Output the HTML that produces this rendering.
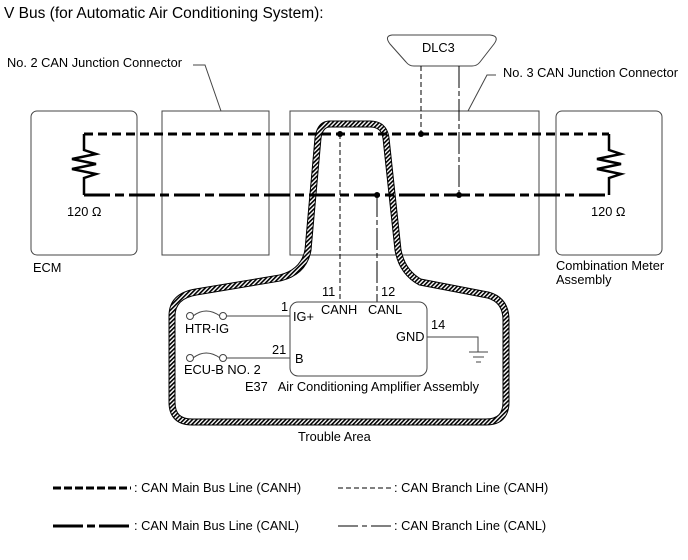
<!DOCTYPE html>
<html><head><meta charset="utf-8"><style>
html,body{margin:0;padding:0;background:#fff}
svg{display:block}
text{font-family:"Liberation Sans",Arial,sans-serif;font-size:12.8px;fill:#000}
</style></head><body>
<svg width="688" height="560" viewBox="0 0 688 560" xmlns="http://www.w3.org/2000/svg">
<defs>
<pattern id="h" width="3" height="3" patternUnits="userSpaceOnUse" patternTransform="rotate(45)">
<rect width="3" height="3" fill="#fff"/><rect width="1.6" height="3" fill="#000"/>
</pattern>
</defs>
<text x="4" y="18" style="font-size:15.5px">V Bus (for Automatic Air Conditioning System):</text>

<g fill="none" stroke="#444" stroke-width="1">
<rect x="31" y="111" width="106" height="144" rx="6"/>
<rect x="162" y="111" width="107" height="144"/>
<rect x="290" y="111" width="249" height="144"/>
<rect x="556" y="111" width="106" height="144" rx="6"/>
<polyline points="193,65 205,65 221,111"/>
<polyline points="496,75 487,75 468,111"/>
<path d="M392,35 L490,35 Q500,36 494,44 L480,62 Q477,66 472,66 L414,66 Q409,66 406,62 L390,44 Q384,36 392,35 Z"/>
</g>
<text x="7" y="67">No. 2 CAN Junction Connector</text>
<text x="503" y="77">No. 3 CAN Junction Connector</text>
<text x="422" y="52">DLC3</text>

<path d="M330,124 L370,124 Q384,124 386,138 L398,250 Q402,272 420,282 L488,295 Q506,300 506,320 L506,402 Q506,422 486,422 L192,422 Q172,422 172,402 L172,316 Q172,296 196,292 L280,278 Q304,272 308,250 L318,138 Q320,124 330,124 Z" fill="none" stroke="#000" stroke-width="7"/>
<path d="M330,124 L370,124 Q384,124 386,138 L398,250 Q402,272 420,282 L488,295 Q506,300 506,320 L506,402 Q506,422 486,422 L192,422 Q172,422 172,402 L172,316 Q172,296 196,292 L280,278 Q304,272 308,250 L318,138 Q320,124 330,124 Z" fill="none" stroke="url(#h)" stroke-width="5"/>

<g stroke="#000" fill="none" stroke-width="3">
<line x1="84" y1="134" x2="609" y2="134" stroke-dasharray="9,5"/>
<line x1="84" y1="195" x2="609" y2="195" stroke-dasharray="26,5,9,5"/>
<polyline points="84,134 84,150 96,154 72,159 96,164 72,169 96,174 84,178 84,195" stroke-width="2.5"/>
<polyline points="609,134 609,150 621,154 597,159 621,164 597,169 621,174 609,178 609,195" stroke-width="2.5"/>
</g>
<g stroke="#000" stroke-width="1" fill="none">
<line x1="421" y1="66" x2="421" y2="134" stroke-dasharray="5,3"/>
<line x1="459" y1="66" x2="459" y2="195" stroke-dasharray="22,3,5,3"/>
<line x1="340" y1="134" x2="340" y2="302" stroke-dasharray="5,3"/>
<line x1="377" y1="195" x2="377" y2="302" stroke-dasharray="22,3,5,3"/>
</g>
<g fill="#000">
<circle cx="421" cy="134" r="3"/><circle cx="459" cy="195" r="3"/>
<circle cx="340" cy="134" r="3"/><circle cx="377" cy="195" r="3"/>
</g>
<text x="67" y="216">120 Ω</text>
<text x="591" y="216">120 Ω</text>
<text x="33" y="272">ECM</text>
<text x="556" y="270">Combination Meter</text>
<text x="556" y="284">Assembly</text>

<g stroke="#444" stroke-width="1" fill="none">
<rect x="290" y="302" width="137" height="74" rx="8"/>
<line x1="226" y1="316" x2="290" y2="316"/>
<line x1="226" y1="358" x2="290" y2="358"/>
<circle cx="190" cy="316" r="3.5"/><circle cx="223" cy="316" r="3.5"/>
<path d="M193,316 Q206,306 220,316"/>
<circle cx="190" cy="358" r="3.5"/><circle cx="223" cy="358" r="3.5"/>
<path d="M193,358 Q206,348 220,358"/>
<polyline points="427,337 478,337 478,352"/>
<line x1="469" y1="352" x2="488" y2="352"/>
<line x1="473" y1="357" x2="484" y2="357"/>
<line x1="476" y1="362" x2="481" y2="362"/>
</g>
<text x="322" y="296">11</text>
<text x="381" y="296">12</text>
<text x="321" y="314">CANH</text>
<text x="368" y="314">CANL</text>
<text x="281" y="311">1</text>
<text x="293" y="321">IG+</text>
<text x="185" y="333">HTR-IG</text>
<text x="272" y="354">21</text>
<text x="295" y="363">B</text>
<text x="184" y="374">ECU-B NO. 2</text>
<text x="431" y="329">14</text>
<text x="396" y="341">GND</text>
<text x="245" y="391" xml:space="preserve">E37   Air Conditioning Amplifier Assembly</text>
<text x="298" y="441">Trouble Area</text>

<g stroke="#000" fill="none">
<line x1="53" y1="488" x2="131" y2="488" stroke-width="3" stroke-dasharray="8,3"/>
<line x1="338" y1="488" x2="392" y2="488" stroke-width="1" stroke-dasharray="5,3"/>
<line x1="53" y1="526" x2="131" y2="526" stroke-width="3" stroke-dasharray="30,4,8,4"/>
<line x1="338" y1="526" x2="392" y2="526" stroke-width="1" stroke-dasharray="20,4,5,4"/>
</g>
<text x="134" y="492">: CAN Main Bus Line (CANH)</text>
<text x="394" y="492">: CAN Branch Line (CANH)</text>
<text x="134" y="530">: CAN Main Bus Line (CANL)</text>
<text x="394" y="530">: CAN Branch Line (CANL)</text>
</svg>
</body></html>
